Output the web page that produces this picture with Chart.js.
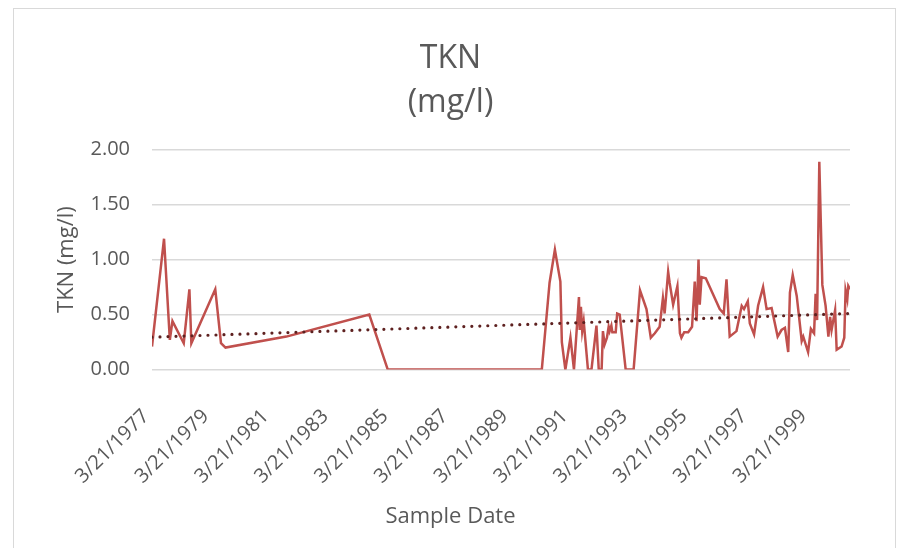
<!DOCTYPE html>
<html>
<head>
<meta charset="utf-8">
<script src="https://cdn.jsdelivr.net/npm/chart.js@4.4.1/dist/chart.umd.min.js"></script>
<style>
  body { margin: 0; background: #ffffff; }
  #frame { position: absolute; left: 13px; top: 8px; width: 881px; height: 560px; border: 1px solid #d9d9d9; }
  #tknChart { position: absolute; left: 0; top: 0; }
</style>
</head>
<body>
<div id="frame"></div>
<canvas id="tknChart" width="901" height="548"></canvas>
<script>
// Sample dates and TKN readings (mg/l)
const sampleDates = [
  "3/21/1977", "8/15/1977", "10/25/1977", "11/26/1977", "4/13/1978", "6/21/1978",
  "7/15/1978", "5/3/1979", "7/12/1979", "9/5/1979", "9/18/1981", "6/27/1984",
  "2/8/1985", "4/5/1990", "7/9/1990", "9/12/1990", "11/18/1990", "12/6/1990",
  "1/18/1991", "3/21/1991", "5/3/1991", "7/3/1991", "7/12/1991", "7/27/1991",
  "8/12/1991", "8/30/1991", "10/21/1991", "12/3/1991", "2/2/1992", "3/1/1992",
  "4/5/1992", "4/21/1992", "5/12/1992", "6/9/1992", "6/30/1992", "7/12/1992",
  "8/2/1992", "8/14/1992", "9/24/1992", "10/12/1992", "11/12/1992", "1/24/1993",
  "5/1/1993", "7/18/1993", "10/5/1993", "11/27/1993", "1/15/1994", "3/15/1994",
  "4/24/1994", "5/15/1994", "6/27/1994", "7/15/1994", "8/27/1994", "10/18/1994",
  "11/18/1994", "12/6/1994", "1/9/1995", "2/27/1995", "4/15/1995", "5/18/1995",
  "6/9/1995", "7/3/1995", "7/18/1995", "8/9/1995", "9/30/1995", "3/18/1996",
  "5/6/1996", "6/9/1996", "7/18/1996", "10/9/1996", "12/12/1996", "1/9/1997",
  "2/24/1997", "3/21/1997", "5/12/1997", "6/30/1997", "8/30/1997", "10/12/1997",
  "12/12/1997", "2/24/1998", "4/12/1998", "5/24/1998", "7/3/1998", "7/24/1998",
  "8/27/1998", "10/15/1998", "12/15/1998", "1/3/1999", "3/3/1999", "4/6/1999",
  "5/15/1999", "6/3/1999", "6/21/1999", "7/18/1999", "8/24/1999", "10/3/1999",
  "11/6/1999", "11/27/1999", "12/15/1999", "1/27/2000", "2/15/2000", "4/15/2000",
  "5/18/2000", "6/3/2000", "6/24/2000", "7/6/2000", "7/27/2000"
];
const tknValues = [
  0.21, 1.19, 0.27, 0.44, 0.24, 0.73,
  0.24, 0.73, 0.24, 0.20, 0.30, 0.50,
  0.00, 0.00, 0.79, 1.09, 0.80, 0.25,
  0.00, 0.29, 0.00, 0.66, 0.36, 0.57,
  0.35, 0.44, 0.00, 0.00, 0.40, 0.00,
  0.00, 0.35, 0.23, 0.29, 0.39, 0.35,
  0.40, 0.34, 0.34, 0.51, 0.50, 0.00,
  0.00, 0.72, 0.55, 0.29, 0.33, 0.39,
  0.65, 0.51, 0.89, 0.79, 0.59, 0.76,
  0.33, 0.29, 0.34, 0.34, 0.39, 0.80,
  0.44, 1.00, 0.59, 0.84, 0.83, 0.55,
  0.51, 0.82, 0.30, 0.35, 0.58, 0.55,
  0.62, 0.42, 0.32, 0.58, 0.75, 0.55,
  0.56, 0.30, 0.36, 0.38, 0.16, 0.70,
  0.86, 0.67, 0.26, 0.30, 0.16, 0.37,
  0.33, 0.69, 0.45, 1.89, 0.77, 0.58,
  0.30, 0.48, 0.36, 0.54, 0.18, 0.21,
  0.29, 0.72, 0.64, 0.76, 0.73
];

// Linear trendline, start and end values
const trendDates = ["3/21/1977", "7/27/2000"];
const trendValues = [0.295, 0.51];

const xTickLabels = [
  "3/21/1977", "3/21/1979", "3/21/1981", "3/21/1983", "3/21/1985", "3/21/1987",
  "3/21/1989", "3/21/1991", "3/21/1993", "3/21/1995", "3/21/1997", "3/21/1999"
];
const yTicks = [0, 0.5, 1, 1.5, 2];

const textColor = "#595959";
const fontFamily = "'Open Sans', sans-serif";

// "M/D/YYYY" -> day number
function toDay(s) {
  const [m, d, y] = s.split("/").map(Number);
  return Date.UTC(y, m - 1, d) / 86400000;
}

const ctx = document.getElementById("tknChart").getContext("2d");
new Chart(ctx, {
  type: "line",
  data: {
    datasets: [
      {
        label: "TKN",
        data: sampleDates.map((d, i) => ({ x: toDay(d), y: tknValues[i] })),
        borderColor: "#c0504d",
        borderWidth: 2.5,
        pointRadius: 0,
        tension: 0,
        order: 2,
      },
      {
        label: "Linear (TKN)",
        data: trendDates.map((d, i) => ({ x: toDay(d), y: trendValues[i] })),
        borderColor: "#5e2120",
        borderWidth: 3.2,
        borderDash: [0, 8],
        borderCapStyle: "round",
        pointRadius: 0,
        order: 1,
      },
    ],
  },
  options: {
    responsive: false,
    animation: false,
    layout: { padding: 0 },
    plugins: {
      legend: { display: false },
      tooltip: { enabled: false },
      title: {
        display: true,
        text: ["TKN", "(mg/l)"],
        color: textColor,
        font: { family: fontFamily, size: 32, weight: "normal", lineHeight: 1.4 },
        padding: { top: 36, bottom: 24 },
      },
      // x-axis title, centred on the whole chart like the original
      subtitle: {
        display: true,
        position: "bottom",
        text: "Sample Date",
        color: textColor,
        font: { family: fontFamily, size: 22, weight: "normal", lineHeight: 1.2 },
        padding: { top: 0, bottom: 18 },
      },
    },
    scales: {
      x: {
        type: "linear",
        min: toDay(sampleDates[0]),
        max: toDay(sampleDates[sampleDates.length - 1]),
        afterBuildTicks: (scale) => {
          scale.ticks = xTickLabels.map((l) => ({ value: toDay(l) }));
        },
        afterFit: (scale) => {
          scale.height = 134;
        },
        grid: { display: false },
        border: { display: false },
        ticks: {
          autoSkip: false,
          minRotation: 45,
          maxRotation: 45,
          padding: 27,
          labelOffset: -6,
          color: textColor,
          font: { family: fontFamily, size: 20 },
          callback: (v) => xTickLabels.find((l) => toDay(l) === v) || "",
        },
      },
      y: {
        min: 0,
        max: 2,
        afterBuildTicks: (scale) => {
          scale.ticks = yTicks.map((v) => ({ value: v }));
        },
        afterFit: (scale) => {
          scale.width = 152;
        },
        grid: { color: "#d9d9d9", lineWidth: 1.5, drawTicks: false },
        border: { display: false },
        ticks: {
          padding: 22,
          color: textColor,
          font: { family: fontFamily, size: 20 },
          callback: (v) => v.toFixed(2),
        },
        title: {
          display: true,
          text: "TKN (mg/l)",
          color: textColor,
          font: { family: fontFamily, size: 22 },
          padding: { top: 54, bottom: 0 },
        },
      },
      // empty right-hand gutter, keeps the plot area off the right edge
      gutter: {
        position: "right",
        display: true,
        grid: { display: false },
        border: { display: false },
        ticks: { display: false },
        afterFit: (scale) => {
          scale.width = 51;
        },
      },
    },
  },
});
</script>
</body>
</html>
